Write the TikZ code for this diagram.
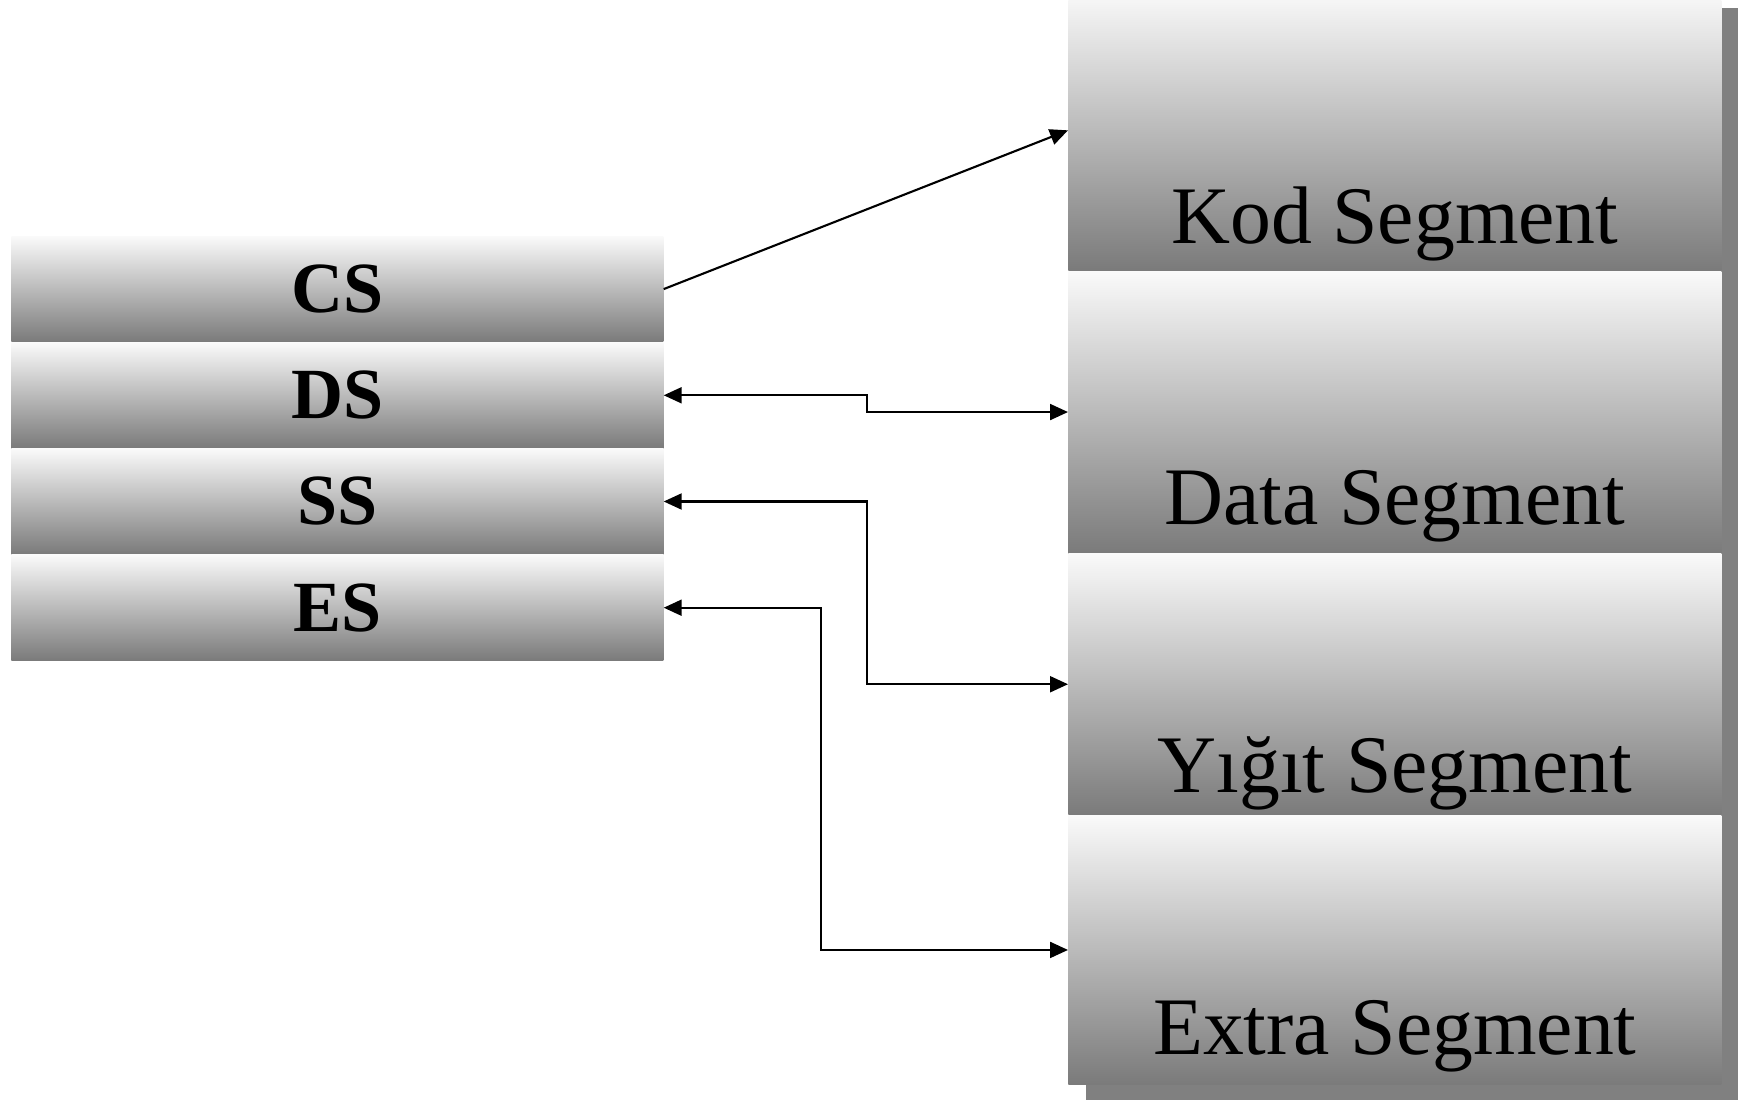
\documentclass[tikz,border=0pt]{standalone}
\usepackage{fontspec}
\setmainfont{Liberation Serif}
\usetikzlibrary{arrows.meta}

\begin{document}
\begin{tikzpicture}[
	>={Triangle[length=0.36cm,width=0.32cm]},
	reg/.style={minimum width=13.04cm, minimum height=2.11cm, inner sep=0pt,
		top color=white!98!black, bottom color=black!52,
		font=\fontsize{41}{48}\selectfont\bfseries},
	seg/.style={anchor=north west, minimum width=13.06cm, inner sep=0pt,
		top color=white!98!black, bottom color=black!52},
	seglbl/.style={anchor=base, font=\fontsize{46.5}{54}\selectfont},
	link/.style={line width=1.2pt},
	]
	\useasboundingbox (0,0) rectangle (34.76,22);

	% segment registers
	\node[reg, anchor=north west] (cs) at (0.22,17.28) {CS};
	\node[reg, anchor=north] (ds) at (cs.south) {DS};
	\node[reg, anchor=north] (ss) at (ds.south) {SS};
	\node[reg, anchor=north] (es) at (ss.south) {ES};

	% shadow behind the memory column
	\fill[black!50] (21.72,21.84) rectangle (34.78,0);

	% memory segments
	\node[seg, minimum height=5.6cm] (kod) at (21.36,22.2) {};
	\node[seg, minimum height=5.64cm] (data) at (kod.south west) {};
	\node[seg, minimum height=5.22cm] (yigit) at (data.south west) {};
	\node[seg, minimum height=5.38cm] (extra) at (yigit.south west) {};

	\node[seglbl] (kodlbl) at ([yshift=0.54cm]kod.south) {Kod Segment};
	\node[seglbl] (datalbl) at ([yshift=0.58cm]data.south) {Data Segment};
	\node[seglbl] (yigitlbl) at ([yshift=0.46cm]yigit.south) {Yığıt Segment};
	\node[seglbl] (extralbl) at ([yshift=0.6cm]extra.south) {Extra Segment};

	% connections
	\draw[link, ->] (cs.east) -- (kod.west);
	\draw[link, <->] (ds.east) -- ++(4.06,0) |- (data.west);
	\draw[link, <->] (ss.east) -- ++(4.06,0) |- (yigit.west);
	\draw[link, <->] (es.east) -- ++(3.14,0) |- (extra.west);

\end{tikzpicture}
\end{document}
